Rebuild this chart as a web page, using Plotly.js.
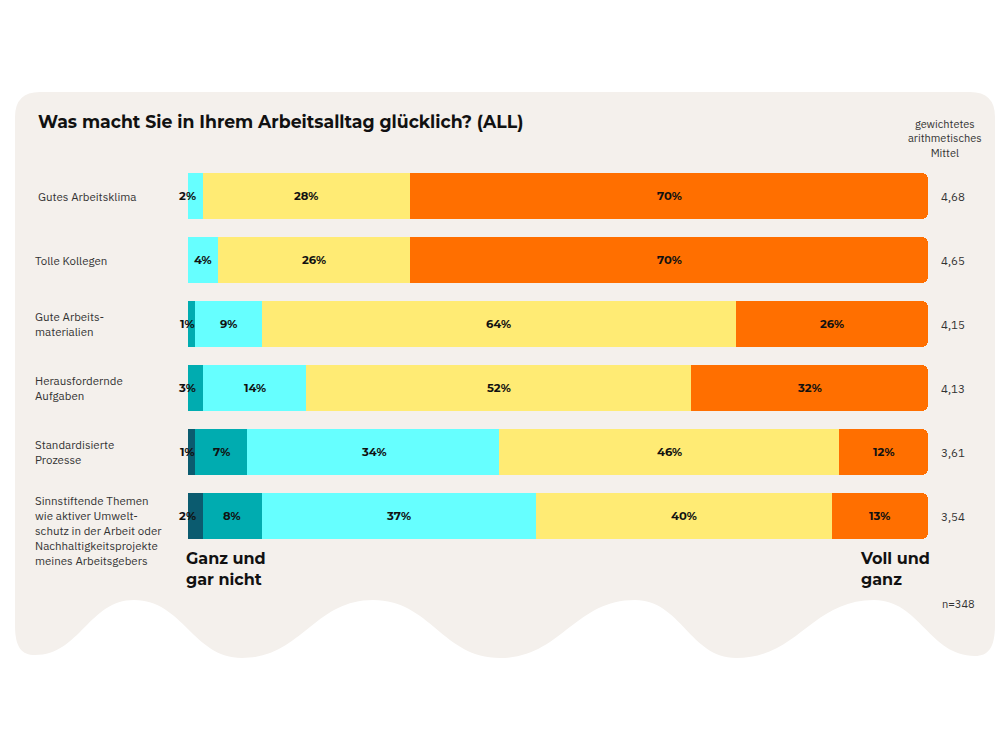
<!DOCTYPE html>
<html>
<head>
<meta charset="utf-8">
<script src="https://cdn.plot.ly/plotly-3.0.1.min.js"></script>
<style>
html,body{margin:0;padding:0;background:#ffffff;}
#chart{width:1000px;height:750px;}
</style>
</head>
<body>
<div id="chart"></div>
<script>
// ---- data ----
const categories = [
  "Gutes Arbeitsklima",
  "Tolle Kollegen",
  "Gute Arbeits-<br>materialien",
  "Herausfordernde<br>Aufgaben",
  "Standardisierte<br>Prozesse",
  "Sinnstiftende Themen<br>wie aktiver Umwelt-<br>schutz in der Arbeit oder<br>Nachhaltigkeitsprojekte<br>meines Arbeitsgebers"
];
const scaleNames = ["Ganz und gar nicht", "2", "3", "4", "Voll und ganz"];
// segment widths (share in %)
const s1 = [0, 0, 0, 0, 1, 2];
const s2 = [0, 0, 1, 2, 7, 8];
const s3 = [2, 4, 9, 14, 34, 37];
const s4 = [28, 26, 64, 52, 46, 40];
const s5 = [70, 70, 26, 32, 12, 13];
// printed labels
const l1 = ["", "", "", "", "1%", "2%"];
const l2 = ["", "", "1%", "3%", "7%", "8%"];
const l3 = ["2%", "4%", "9%", "14%", "34%", "37%"];
const l4 = ["28%", "26%", "64%", "52%", "46%", "40%"];
const l5 = ["70%", "70%", "26%", "32%", "12%", "13%"];
const means = ["4,68", "4,65", "4,15", "4,13", "3,61", "3,54"];
const meanHeader = "gewichtetes<br>arithmetisches<br>Mittel";
const titleText = "Was macht Sie in Ihrem Arbeitsalltag glücklich? (ALL)";
const nText = "n=348";

const colors = ["#0b5b6f", "#00acb0", "#66ffff", "#ffeb74", "#ff6f00"];
const series = [s1, s2, s3, s4, s5];
const labels = [l1, l2, l3, l4, l5];

// ---- layout geometry ----
const W = 1000, H = 750;
const M = {l: 188, r: 72, t: 164, b: 202};
const PW = W - M.l - M.r, PH = H - M.t - M.b;
const px = x => (x - M.l) / PW;
const py = y => (H - M.b - y) / PH;

const traces = series.map((s, i) => ({
  type: "bar",
  orientation: "h",
  name: scaleNames[i],
  x: s,
  y: categories,
  marker: {color: colors[i], line: {width: 0}},
  hoverinfo: "x+name",
  showlegend: false
}));

const annotations = [];
const FONT_BOLD = "Montserrat, 'Open Sans', sans-serif";
const FONT_REG = "'IBM Plex Sans', 'Noto Sans', sans-serif";

// segment labels
categories.forEach((c, r) => {
  let cum = 0;
  series.forEach((s, i) => {
    const v = s[r];
    const t = labels[i][r];
    if (t) {
      const small = v < 3 && cum === 0;
      annotations.push({
        x: small ? 0 : cum + v / 2, y: c, xref: "x", yref: "y",
        text: "<b>" + t + "</b>", showarrow: false,
        xanchor: "center", yanchor: "middle", xshift: small ? -1 : 0,
        font: {family: FONT_BOLD, size: 11.5, color: "#111111"}
      });
    }
    cum += v;
  });
  // category label
  const last = r === categories.length - 1;
  annotations.push({
    x: px(r === 0 ? 36 : 33), xref: "paper", y: c, yref: "y",
    yanchor: last ? "top" : "middle", yshift: last ? 25 : 0,
    text: c, showarrow: false, xanchor: "left", align: "left",
    font: {family: FONT_REG, size: 11.5, color: "#333333"}
  });
  // mean
  annotations.push({
    x: px(939), xref: "paper", y: c, yref: "y",
    text: means[r], showarrow: false, xanchor: "left", yanchor: "middle",
    font: {family: FONT_REG, size: 11.5, color: "#333333"}
  });
});

annotations.push({
  x: px(945), xref: "paper", y: py(138), yref: "paper",
  text: meanHeader, showarrow: false, xanchor: "center", yanchor: "middle", align: "center",
  font: {family: FONT_REG, size: 11, color: "#333333"}
});
annotations.push({
  x: px(184), xref: "paper", y: py(547), yref: "paper",
  text: "<b>Ganz und<br>gar nicht</b>", showarrow: false, xanchor: "left", yanchor: "top", align: "left",
  font: {family: FONT_BOLD, size: 16, color: "#111111"}
});
annotations.push({
  x: px(858), xref: "paper", y: py(547), yref: "paper",
  text: "<b>Voll und<br>ganz</b>", showarrow: false, xanchor: "left", yanchor: "top", align: "left",
  font: {family: FONT_BOLD, size: 16, color: "#111111"}
});
annotations.push({
  x: px(940), xref: "paper", y: py(604), yref: "paper",
  text: nText, showarrow: false, xanchor: "left", yanchor: "middle",
  font: {family: FONT_REG, size: 11, color: "#333333"}
});

// background card with wavy bottom (pixel path converted to paper coords)
function P(x, y) { return px(x).toFixed(5) + "," + py(y).toFixed(5); }
const lobes = [975, 736, 500, 242, 35];
const bumps = [874, 635, 373, 134];
let path = "M" + P(15, 117) + " Q" + P(15, 92) + " " + P(40, 92) +
  " L" + P(970, 92) + " Q" + P(995, 92) + " " + P(995, 117) +
  " L" + P(995, 625) + " C" + P(995, 648) + " " + P(988, 656) + " " + P(975, 656);
const pts = [];
for (let k = 0; k < lobes.length; k++) {
  pts.push([lobes[k], 658]);
  if (k < bumps.length) pts.push([bumps[k], 600]);
}
pts[0][1] = 656;
pts[pts.length - 1][1] = 655;
for (let k = 1; k < pts.length; k++) {
  const [x1, y1] = pts[k - 1], [x2, y2] = pts[k];
  const d = (x2 - x1) * 0.45;
  path += " C" + P(x1 + d, y1) + " " + P(x2 - d, y2) + " " + P(x2, y2);
}
path += " C" + P(22, 655) + " " + P(15, 648) + " " + P(15, 625) + " Z";

const layout = {
  width: W, height: H,
  margin: M,
  paper_bgcolor: "#ffffff",
  plot_bgcolor: "rgba(0,0,0,0)",
  barmode: "stack",
  bargap: 0.28,
  barcornerradius: 6,
  title: {
    text: "<b>" + titleText + "</b>",
    x: 38 / W, xanchor: "left", xref: "container",
    y: 1 - 122 / H, yanchor: "middle", yref: "container",
    font: {family: FONT_BOLD, size: 17.3, color: "#111111"}
  },
  xaxis: {range: [0, 100], visible: false, fixedrange: true},
  yaxis: {autorange: "reversed", showticklabels: false, showgrid: false, zeroline: false, showline: false, ticks: "", fixedrange: true},
  shapes: [{
    type: "path", xref: "paper", yref: "paper", layer: "below",
    path: path, fillcolor: "#f4f0ec", line: {width: 0}
  }],
  annotations: annotations,
  showlegend: false
};

Plotly.newPlot("chart", traces, layout, {displayModeBar: false, staticPlot: true});
</script>
</body>
</html>
